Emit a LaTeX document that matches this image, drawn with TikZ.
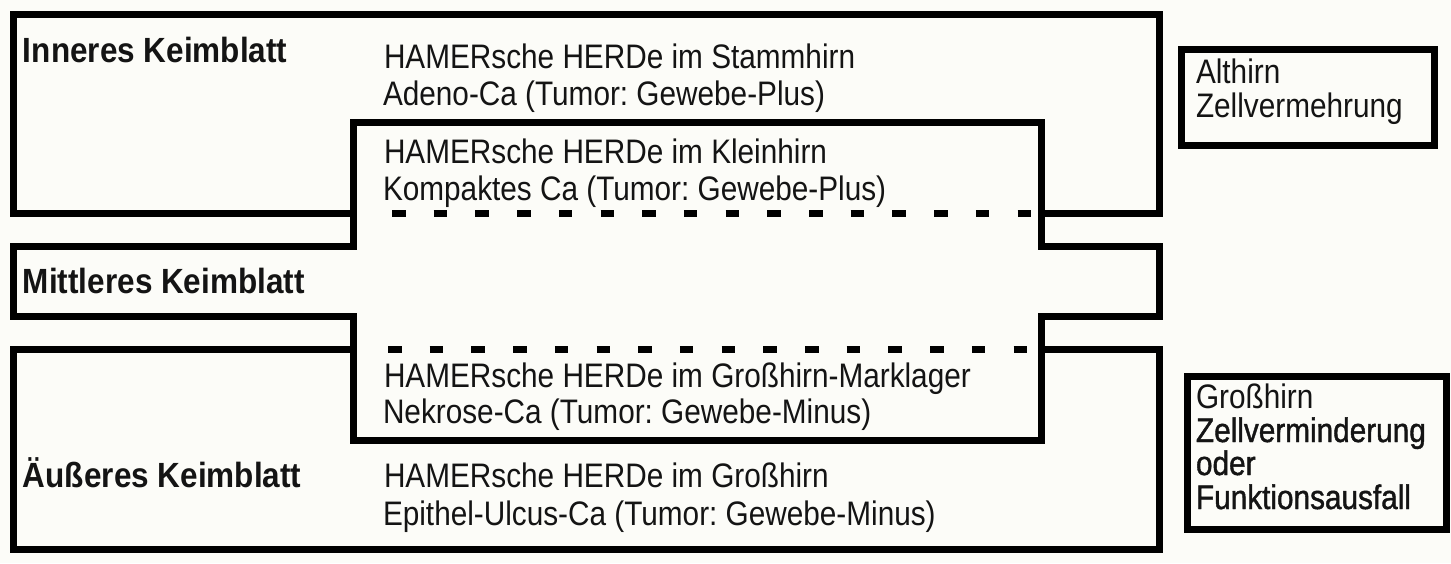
\documentclass[tikz,border=0pt]{standalone}
\usepackage{fontspec}
\setmainfont{Liberation Sans}[FakeStretch=0.875]
\newfontfamily\heavyfont{Liberation Sans}[FakeStretch=0.875,FakeBold=1.2]
\newfontfamily\labelfont{Liberation Sans Bold}[FakeStretch=0.9]
\definecolor{paper}{RGB}{252,252,248}
\definecolor{ink}{RGB}{20,20,20}
\frenchspacing
\begin{document}
\begin{tikzpicture}[x=1pt,y=-1pt,
  thick line/.style={line width=7pt,draw=black,line join=miter},
  dashline/.style={line width=7pt,draw=black,dash pattern=on 13.5pt off 28.2pt},
  rboxline/.style={line width=7pt,draw=black},
  txt/.style={anchor=base west,inner sep=0pt,outer sep=0pt,text=ink,font=\fontsize{34}{37}\selectfont},
  lbl/.style={anchor=base west,inner sep=0pt,outer sep=0pt,text=ink,font=\fontsize{35}{37}\selectfont\labelfont},
  htxt/.style={anchor=base west,inner sep=0pt,outer sep=0pt,text=ink,font=\fontsize{34}{37}\selectfont\heavyfont}]
\useasboundingbox (0,0) rectangle (1451,563);
\fill[paper] (0,0) rectangle (1451,563);

% inneres Keimblatt (outer box, top)
\draw[thick line] (353.5,213) -- (13,213) -- (13,14) -- (1159,14) -- (1159,213) -- (1041,213);
\draw[dashline] (392,213) -- (1034,213);

% cross shape: Kleinhirn / Mittleres / Grosshirn-Marklager
\draw[thick line] (353.5,122.5) -- (1041,122.5) -- (1041,246) -- (1159,246) -- (1159,316)
  -- (1041,316) -- (1041,440.5) -- (353.5,440.5) -- (353.5,316) -- (13,316)
  -- (13,246) -- (353.5,246) -- cycle;

% aeusseres Keimblatt (outer box, bottom)
\draw[thick line] (353.5,349) -- (13,349) -- (13,549) -- (1159,549) -- (1159,349) -- (1041,349);
\draw[dashline] (388,349) -- (1030,349);

% right boxes
\draw[rboxline] (1181,49) rectangle (1434,145.5);
\draw[rboxline] (1187,376.5) rectangle (1446.5,529);

% labels
\node[lbl] (inneres) at (23,62) {Inneres Keimblatt};
\node[lbl] (mittleres) at (23,293) {Mittleres Keimblatt};
\node[lbl] (aeusseres) at (23,487) {Äußeres Keimblatt};

\node[txt] (st1) at (384,68) {HAMERsche HERDe im Stammhirn};
\node[txt] (st2) at (383,105) {Adeno-Ca (Tumor: Gewebe-Plus)};
\node[txt] (kl1) at (384,163) {HAMERsche HERDe im Kleinhirn};
\node[txt] (kl2) at (383,200) {Kompaktes Ca (Tumor: Gewebe-Plus)};
\node[txt] (ml1) at (384,387) {HAMERsche HERDe im Großhirn-Marklager};
\node[txt] (ml2) at (383,423) {Nekrose-Ca (Tumor: Gewebe-Minus)};
\node[txt] (gh1) at (384,487) {HAMERsche HERDe im Großhirn};
\node[txt] (gh2) at (383,525) {Epithel-Ulcus-Ca (Tumor: Gewebe-Minus)};

\node[txt] (alt1) at (1196,83) {Althirn};
\node[txt] (alt2) at (1196,117) {Zellvermehrung};

\node[txt] (gr1) at (1196,408) {Großhirn};
\node[htxt] (gr2) at (1196,442) {Zellverminderung};
\node[htxt] (gr3) at (1196,475) {oder};
\node[htxt] (gr4) at (1196,509) {Funktionsausfall};
\end{tikzpicture}
\end{document}
